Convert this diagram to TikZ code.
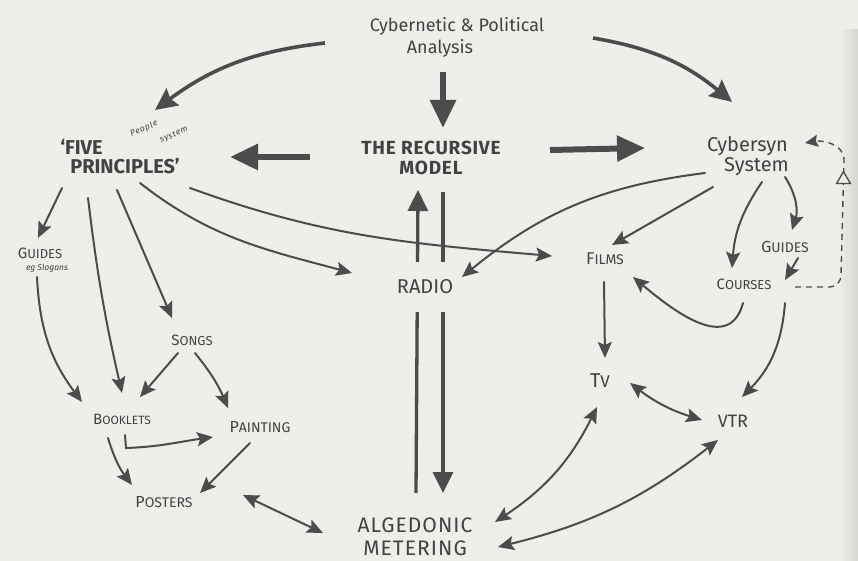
\documentclass[tikz,border=0pt]{standalone}
\usepackage{fontspec}
\setmainfont{Fira Sans}
\usetikzlibrary{arrows.meta,shapes.geometric}
\definecolor{paper}{HTML}{EEEEEB}
\definecolor{ink}{HTML}{4C4C4C}
\definecolor{inkt}{HTML}{424242}
\newcommand{\hsc}[4]{{\fontsize{#1}{#1}\selectfont #3}{\fontsize{#2}{#2}\selectfont #4}}
\tikzset{
  lbl/.style={text=inkt, inner sep=0pt, align=center},
  note/.style={text=inkt, inner sep=0pt, font=\itshape\fontsize{8.5}{8.5}\selectfont\addfontfeature{LetterSpace=8}, rotate=24},
  arr/.style={draw=ink, line width=2pt, line cap=round, -{Stealth[length=16pt,width=14pt,inset=3pt]}},
  darr/.style={draw=ink, line width=2pt, {Stealth[length=16pt,width=14pt,inset=3pt]}-{Stealth[length=16pt,width=14pt,inset=3pt]}},
  medarr/.style={draw=ink, line width=3.6pt, -{Stealth[length=22pt,width=21pt,inset=3pt]}},
  bigarr/.style={draw=ink, line width=6pt, -{Triangle[length=28pt,width=25pt]}},
  vline/.style={draw=ink, line width=3.3pt, -{Triangle[length=21pt,width=20pt]}},
  dline/.style={draw=ink, line width=1.4pt, dash pattern=on 6pt off 5pt, -{Stealth[length=13pt,width=12pt,inset=2pt]}},
  tri/.style={draw=ink, line width=1.3pt, solid, fill=paper, isosceles triangle, isosceles triangle apex angle=60, shape border rotate=90, inner sep=0pt, minimum size=12pt}
}
\begin{document}
\begin{tikzpicture}[x=1pt,y=1pt]
\fill[paper] (0,0) rectangle (858,-561);
\useasboundingbox (0,0) rectangle (858,-561);
\shade[left color=paper, right color=paper!90!black] (838,-30) rectangle (858,-561);

% nodes
\node[lbl, font=\fontsize{18}{22}\selectfont] (cpa) at (457,-37) {Cybernetic \& Political\\Analysis\hspace*{34pt}};
\node[lbl, font=\bfseries\fontsize{20}{19}\selectfont, align=left] (five) at (120,-157) {`FIVE\\\hspace*{10pt}PRINCIPLES'};
\node[note] (ps1) at (144,-129) {People};
\node[note] (ps2) at (174,-135) {system};
\node[lbl, font=\bfseries\fontsize{19}{20}\selectfont\addfontfeature{LetterSpace=4}] (trm) at (431,-158) {THE RECURSIVE\\MODEL};
\node[lbl, font=\fontsize{20}{16}\selectfont] (cyb) at (752,-156) {Cybersyn\hspace*{9pt}\\\hspace*{9pt}System};
\node[lbl] (gl) at (40,-253) {\hsc{15}{13}{G}{UIDES}};
\node[lbl, font=\itshape\fontsize{8.5}{9}\selectfont] (egs) at (47,-268) {eg Slogans};
\node[lbl] (songs) at (192,-340) {\hsc{15}{13}{S}{ONGS}};
\node[lbl] (booklets) at (122,-419) {\hsc{15}{12}{B}{OOKLETS}};
\node[lbl] (painting) at (260,-427) {\hsc{16}{14}{P}{AINTING}};
\node[lbl] (posters) at (164,-502) {\hsc{16}{14}{P}{OSTERS}};
\node[lbl] (films) at (605,-259) {\hsc{17}{14}{F}{ILMS}};
\node[lbl] (gr) at (785,-247) {\hsc{16}{14}{G}{UIDES}};
\node[lbl] (courses) at (744,-284) {\hsc{15}{13}{C}{OURSES}};
\node[lbl] (tv) at (600,-381) {\hsc{20}{17}{T}{V}};
\node[lbl, font=\fontsize{18}{18}\selectfont] (vtr) at (733,-421) {VTR};
\node[lbl, font=\fontsize{21}{23}\selectfont\addfontfeature{LetterSpace=5}] (alg) at (415,-537) {ALGEDONIC\\METERING};

% vertical lines between model and metering
\draw[vline] ([shift={(1,44)}]alg.center) -- ([shift={(-13,-32)}]trm.center);
\draw[vline] ([shift={(12,-34)}]trm.center) -- ([shift={(28,44)}]alg.center);
\node[lbl, font=\fontsize{20}{20}\selectfont, fill=paper, minimum height=50pt, inner xsep=1pt] (radio) at (425,-287) {RADIO};

% from analysis
\draw[medarr] ([shift={(-132,-6)}]cpa.center) to[bend right=15] ([shift={(35,47)}]five.center);
\draw[bigarr] ([shift={(-14,-35)}]cpa.center) -- ([shift={(12,30)}]trm.center);
\draw[medarr] ([shift={(136,-1)}]cpa.center) to[bend left=15] ([shift={(-20,54)}]cyb.center);

% from the recursive model
\draw[bigarr] ([shift={(-121,1)}]trm.center) -- ([shift={(110,0)}]five.center);
\draw[bigarr] ([shift={(119,8)}]trm.center) -- ([shift={(-107,8)}]cyb.center);

% from five principles
\draw[arr] ([shift={(-58,-31)}]five.center) -- ([shift={(-2,15)}]gl.center);
\draw[arr] ([shift={(-32,-41)}]five.center) to[bend right=3] ([shift={(0,26)}]booklets.center);
\draw[arr] ([shift={(-3,-33)}]five.center) -- ([shift={(-20,22)}]songs.center);
\draw[arr] ([shift={(20,-26)}]five.center) to[out=-38,in=165] ([shift={(-73,14)}]radio.center);
\draw[arr] ([shift={(70,-31)}]five.center) to[out=-20,in=175] ([shift={(-53,3)}]films.center);

% left cluster
\draw[arr] ([shift={(-3,-24)}]gl.center) to[bend right=17] ([shift={(-40,17)}]booklets.center);
\draw[arr] ([shift={(-14,-13)}]songs.center) -- ([shift={(18,22)}]booklets.center);
\draw[arr] ([shift={(3,-13)}]songs.center) to[bend left=8] ([shift={(-32,19)}]painting.center);
\draw[arr] ([shift={(3,-16)}]booklets.center) -- ++(1,-13) to[out=2,in=188] ([shift={(-47,-10)}]painting.center);
\draw[arr] ([shift={(-14,-19)}]booklets.center) to[bend right=10] ([shift={(-32,17)}]posters.center);
\draw[arr] ([shift={(-10,-16)}]painting.center) -- ([shift={(36,9)}]posters.center);
\draw[darr] ([shift={(79,7)}]posters.center) -- ([shift={(-92,4)}]alg.center);

% from cybersyn
\draw[arr] ([shift={(-47,-17)}]cyb.center) to[bend right=16] ([shift={(37,10)}]radio.center);
\draw[arr] ([shift={(-39,-31)}]cyb.center) -- ([shift={(7,14)}]films.center);
\draw[arr] ([shift={(10,-26)}]cyb.center) to[bend right=15] ([shift={(-12,16)}]courses.center);
\draw[arr] ([shift={(33,-21)}]cyb.center) to[bend left=25] ([shift={(7,17)}]gr.center);
\draw[arr] ([shift={(13,-11)}]gr.center) -- ([shift={(41,4)}]courses.center);
\draw[arr] ([shift={(-1,-19)}]courses.center) to[out=-105,in=-40,looseness=1.2] ([shift={(28,-18)}]films.center);
\draw[arr] ([shift={(41,-19)}]courses.center) to[bend left=20] ([shift={(9,24)}]vtr.center);
\draw[dline] ([shift={(51,-3)}]courses.center) -- ++(35,0) to[out=0,in=-90] ++(11,12) -- node[pos=0.83,tri]{} ++(3,115) to[out=90,in=10] ([shift={(53,13)}]cyb.center);

% media
\draw[arr] ([shift={(-1,-23)}]films.center) -- ([shift={(5,23)}]tv.center);
\draw[darr] ([shift={(30,-2)}]tv.center) to[bend right=10] ([shift={(-31,1)}]vtr.center);
\draw[darr] ([shift={(-3,-26)}]tv.center) to[bend left=15] ([shift={(80,15)}]alg.center);
\draw[darr] ([shift={(-15,-19)}]vtr.center) to[bend left=12] ([shift={(83,-10)}]alg.center);
\end{tikzpicture}
\end{document}
